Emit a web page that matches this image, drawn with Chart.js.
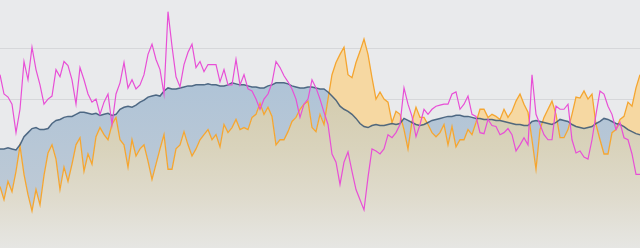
<!DOCTYPE html>
<html>
<head>
<meta charset="utf-8">
<script src="https://cdn.jsdelivr.net/npm/chart.js@4"></script>
<style>
  html, body { margin: 0; padding: 0; background: #e9eaec; }
  #wrap { width: 640px; height: 248px; position: relative; }
</style>
</head>
<body>
<div id="wrap"><canvas id="chart"></canvas></div>
<script>
// values, one point every step along x
const blueSeries = [101,101,102,101,100,105,113,117,121,122,120,120,121,126,129,130,132,133,133,135,
  137,137,136,135,136,134,135,136,134,135,140,142,143,142,144,147,149,152,153,154,
  153,158,161,160,160,161,162,163,163,164,164,164,165,164,164,163,163,164,166,165,
  164,164,163,162,162,161,161,163,164,166,166,166,165,163,162,161,161,162,162,161,
  160,160,157,153,149,143,140,138,135,131,126,123,122,124,125,124,124,125,126,125,
  126,131,129,127,125,124,125,127,129,130,131,132,133,133,134,134,133,133,132,131,
  131,130,130,130,129,129,128,127,126,125,125,124,124,128,129,128,127,126,125,127,
  130,129,128,125,123,122,121,122,123,126,128,131,130,128,126,125,123,120,118,116,115];

const orangeSeries = [64,51,69,59,79,104,76,56,40,61,46,75,97,105,91,61,83,69,86,105,
  112,79,96,86,113,122,115,110,125,132,110,105,83,110,94,101,105,89,71,86,
  101,115,81,81,101,105,118,105,94,101,110,115,120,110,115,103,125,117,122,130,
  120,122,120,132,135,146,135,142,133,105,110,110,118,128,132,140,145,148,122,118,
  135,125,150,174,186,194,201,174,171,186,197,209,194,171,150,157,150,147,127,138,
  135,120,101,128,142,132,132,125,117,113,117,125,105,123,103,110,110,120,115,127,
  140,140,132,135,133,130,140,132,138,148,155,145,137,110,81,120,132,140,148,135,
  112,112,120,135,152,151,158,150,155,125,110,96,96,117,120,130,133,147,143,161,174];

const magentaSeries = [174,155,152,145,117,140,187,169,201,179,164,145,150,153,179,172,187,183,169,145,
  181,169,155,147,150,135,147,155,125,155,166,186,161,169,160,164,174,194,204,189,
  179,155,236,202,172,162,184,196,204,181,187,177,184,184,184,167,179,164,164,189,
  164,174,160,158,150,140,150,155,166,187,181,173,167,160,150,132,145,150,169,161,
  150,137,125,96,88,66,88,98,79,61,51,41,73,101,99,96,101,115,112,117,
  125,161,145,133,113,125,140,135,140,143,144,145,145,155,157,140,145,153,135,133,
  117,116,130,124,123,115,117,121,115,99,105,112,105,174,135,125,115,110,110,143,
  140,140,145,110,97,99,93,91,110,135,158,155,143,135,120,127,112,110,96,76,76];

const xLabels = blueSeries.map((_, i) => i);   // category positions only
const yMin = 3.5, yMax = 247.5, yStep = 50;     // gridlines at 50, 100, 150, 200

const canvas = document.getElementById('chart');
const ctx = canvas.getContext('2d');

function vGrad(stops) {
    const g = ctx.createLinearGradient(0, 0, 0, 248);
    stops.forEach(s => g.addColorStop(s[0], s[1]));
    return g;
}

const blueFill = vGrad([[0, '#aac1d7'], [0.35, '#b0c4d7'], [0.85, '#bfcad5'], [1, '#cbd1d7']]);
const khakiFill = vGrad([[0, '#cfc6a4'], [0.35, '#d3cbad'], [0.6, '#d9d3bc'], [0.8, '#dfdbcd'], [1, '#e6e6e3']]);
const lightOrange = '#f6d8a2';

new Chart(ctx, {
    type: 'line',
    data: {
        labels: xLabels,
        datasets: [
            {
                data: magentaSeries,
                borderColor: '#e84fd6',
                borderWidth: 1.2,
                pointRadius: 0,
                fill: false
            },
            {
                data: blueSeries,
                borderColor: 'rgba(55, 85, 115, 0.85)',
                borderWidth: 1.5,
                pointRadius: 0,
                fill: { target: 2, above: blueFill, below: lightOrange }
            },
            {
                data: orangeSeries,
                borderColor: '#f5a631',
                borderWidth: 1.3,
                pointRadius: 0,
                backgroundColor: khakiFill,
                fill: 'origin'
            }
        ]
    },
    options: {
        responsive: true,
        maintainAspectRatio: false,
        animation: false,
        layout: { padding: 0 },
        plugins: {
            legend: { display: false },
            tooltip: { enabled: false },
            filler: { drawTime: 'beforeDatasetsDraw' }
        },
        scales: {
            x: { display: false },
            y: {
                min: yMin,
                max: yMax,
                border: { display: false },
                grid: { color: '#d6d7da', drawTicks: false },
                ticks: { display: false, stepSize: yStep, includeBounds: false }
            }
        }
    }
});
</script>
</body>
</html>
